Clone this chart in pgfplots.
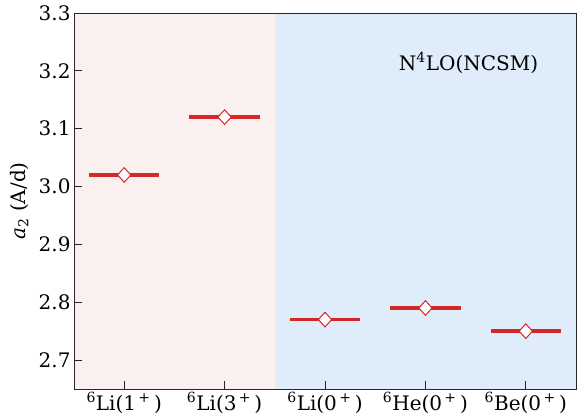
\documentclass[border=0pt]{standalone}
\usepackage{fontspec}
\setmainfont{DejaVu Serif}
\usepackage{pgfplots}
\pgfplotsset{compat=1.18}
\definecolor{barred}{RGB}{214,39,40}
\definecolor{bgpink}{RGB}{251,240,240}
\definecolor{bgblue}{RGB}{223,236,249}
\definecolor{spine}{RGB}{40,40,40}
\begin{document}
\begin{tikzpicture}[font=\fontsize{20bp}{24bp}\selectfont]
\begin{axis}[
  name=ax,
  scale only axis,
  width=502bp, height=376bp,
  xmin=-0.5, xmax=4.5,
  ymin=2.65, ymax=3.3,
  xtick={0,1,2,3,4},
  xticklabels={\textsuperscript{6}Li(1\textsuperscript{\,+}\,),
               \textsuperscript{6}Li(3\textsuperscript{\,+}\,),
               \textsuperscript{6}Li(0\textsuperscript{\,+}\,),
               \textsuperscript{6}He(0\textsuperscript{\,+}\,),
               \textsuperscript{6}Be(0\textsuperscript{\,+}\,)},
  ytick={2.7,2.8,2.9,3.0,3.1,3.2,3.3},
  yticklabel style={/pgf/number format/.cd, fixed, fixed zerofill, precision=1, assume math mode=true},
  tick align=inside,
  xtick pos=bottom, ytick pos=left,
  major tick length=8bp,
  tick style={spine, line width=0.9bp},
  axis line style={spine, line width=0.9bp},
  axis on top=true,
  ylabel={\textit{a}\textsubscript{2} (A/d)},
  ylabel style={at={(axis description cs:-0.084,0.5)}, anchor=south},
  clip=false,
]
\addplot[draw=none, fill=bgpink, forget plot] coordinates {(-0.5,2.65) (1.5,2.65) (1.5,3.3) (-0.5,3.3)} -- cycle;
\addplot[draw=none, fill=bgblue, forget plot] coordinates {(1.5,2.65) (4.5,2.65) (4.5,3.3) (1.5,3.3)} -- cycle;
% horizontal level bars
\addplot[barred, line width=3.6bp, forget plot] coordinates {(-0.35,3.02) (0.35,3.02)};
\addplot[barred, line width=3.6bp, forget plot] coordinates {(0.65,3.12) (1.35,3.12)};
\addplot[barred, line width=3.6bp, forget plot] coordinates {(1.65,2.77) (2.35,2.77)};
\addplot[barred, line width=3.6bp, forget plot] coordinates {(2.65,2.79) (3.35,2.79)};
\addplot[barred, line width=3.6bp, forget plot] coordinates {(3.65,2.75) (4.35,2.75)};
\addplot[only marks, mark=square*, mark size=4.7bp, mark options={yscale=1.1, rotate=45, fill=white, draw=barred, line width=1bp}]
  coordinates {(0,3.02) (1,3.12) (2,2.77) (3,2.79) (4,2.75)};
\node[anchor=center] at (axis cs:3.43,3.214) {N\textsuperscript{4}LO(NCSM)};
\end{axis}
\pgfresetboundingbox
\path ([xshift=-74bp,yshift=-28bp]ax.south west) rectangle ([xshift=1bp,yshift=13bp]ax.north east);
\end{tikzpicture}
\end{document}
